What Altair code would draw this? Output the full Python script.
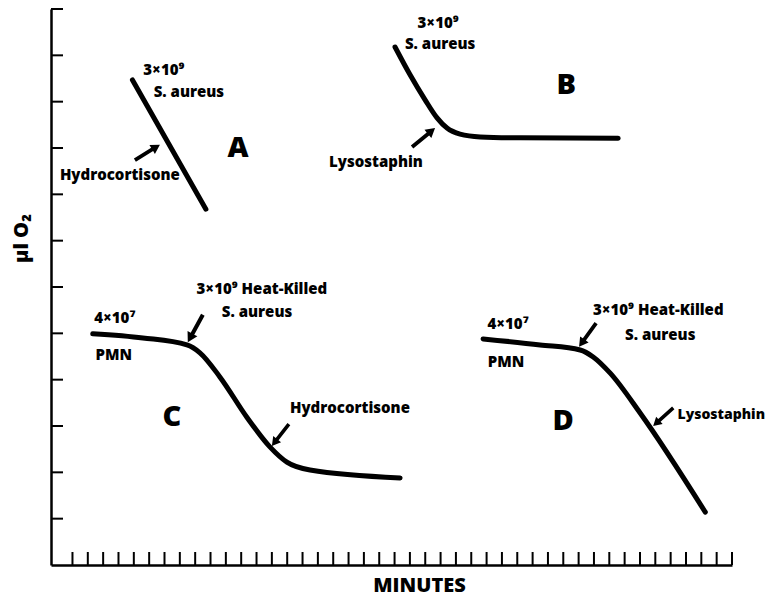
import math
import altair as alt
import pandas as pd

# ---- data ----
a_x = [3.91, 8.70]
a_y = [10.47, 7.68]
b_x = [21.03, 22.01, 22.99, 23.77, 24.42, 25.27, 26.58, 29.19, 35.58]
b_y = [11.18, 10.58, 10.04, 9.65, 9.43, 9.30, 9.24, 9.22, 9.21]
c_x = [1.32, 4.59, 7.46, 8.31, 9.61, 11.37, 12.87, 13.98, 15.49, 21.36]
c_y = [4.99, 4.90, 4.75, 4.58, 4.06, 3.19, 2.55, 2.22, 2.05, 1.88]
d_x = [26.77, 30.49, 33.10, 33.95, 35.06, 37.01, 41.26]
d_y = [4.88, 4.75, 4.64, 4.49, 4.14, 3.28, 1.14]

x_ticks = list(range(0, 44))
y_ticks = list(range(1, 13))

small_labels = ["3×10⁹", "S. aureus", "Hydrocortisone",
                "3×10⁹", "S. aureus", "Lysostaphin",
                "4×10⁷", "PMN", "3×10⁹ Heat-Killed", "S. aureus", "Hydrocortisone",
                "4×10⁷", "PMN", "3×10⁹ Heat-Killed", "S. aureus", "Lysostaphin"]
small_x = [5.96, 7.59, 3.09,
           23.84, 23.97, 19.79,
           2.76, 2.69, 12.35, 12.03, 18.09,
           28.40, 28.27, 38.19, 38.32, 42.30]
small_y = [10.68, 10.21, 8.42,
           11.70, 11.25, 8.70,
           5.33, 4.53, 5.96, 5.46, 3.39,
           5.20, 4.38, 5.50, 4.96, 3.24]
small_size = [15, 15, 15,
              15, 15, 15,
              15, 15, 15, 15, 15,
              15, 15, 15, 15, 14]

big_labels = ["A", "B", "C", "D"]
big_x = [10.79, 32.19, 6.48, 31.99]
big_y = [9.00, 10.36, 3.19, 3.11]

# arrows: tail -> tip
arrow_tail_x = [4.07, 22.14, 8.50, 14.11, 34.14, 39.17]
arrow_tail_y = [8.74, 9.02, 5.40, 3.04, 5.22, 3.39]
arrow_tip_x = [5.70, 23.64, 7.52, 13.00, 33.03, 37.86]
arrow_tip_y = [9.07, 9.43, 4.81, 2.57, 4.71, 3.00]

# ---- layout ----
W, H = 681, 556
X_DOM = [-1.4, 43]
Y_DOM = [0, 12]
FONT = "Open Sans"

sx = W / (X_DOM[1] - X_DOM[0])
sy = H / (Y_DOM[1] - Y_DOM[0])

curves = pd.concat([
    pd.DataFrame({"x": a_x, "y": a_y, "c": "A"}),
    pd.DataFrame({"x": b_x, "y": b_y, "c": "B"}),
    pd.DataFrame({"x": c_x, "y": c_y, "c": "C"}),
    pd.DataFrame({"x": d_x, "y": d_y, "c": "D"}),
], ignore_index=True)

arrows = []
for tx, ty, hx, hy in zip(arrow_tail_x, arrow_tail_y, arrow_tip_x, arrow_tip_y):
    dx = (hx - tx) * sx
    dy = -(hy - ty) * sy
    ang = math.degrees(math.atan2(dx, -dy)) % 360
    length = math.hypot(dx, dy)
    arrows.append({"x": (tx + hx) / 2, "y": (ty + hy) / 2, "angle": ang, "size": length ** 2})
arrows = pd.DataFrame(arrows)

small_df = pd.DataFrame({"label": small_labels, "x": small_x, "y": small_y, "fs": small_size})
big_df = pd.DataFrame({"label": big_labels, "x": big_x, "y": big_y})
xt_df = pd.DataFrame({"x": x_ticks})
yt_df = pd.DataFrame({"y": y_ticks})

xscale = alt.Scale(domain=X_DOM, nice=False, zero=False)
yscale = alt.Scale(domain=Y_DOM, nice=False, zero=False)

x_axis = alt.Axis(ticks=False, labels=False, grid=False, domainWidth=2.5, domainColor="black",
                  title="MINUTES", titleFont=FONT, titleFontSize=20, titleFontWeight=800,
                  titleColor="black", titleX=368, titleY=26, titleAlign="center",
                  titleBaseline="alphabetic")
y_axis = alt.Axis(ticks=False, labels=False, grid=False, domainWidth=2.5, domainColor="black",
                  title="µl O₂", titleFont=FONT, titleFontSize=20, titleFontWeight=800,
                  titleColor="black", titleAngle=270, titleX=-24, titleY=229,
                  titleAlign="center", titleBaseline="alphabetic")

X = lambda: alt.X("x:Q", scale=xscale, axis=x_axis)
Y = lambda: alt.Y("y:Q", scale=yscale, axis=y_axis)

lines = alt.Chart(curves).mark_line(
    color="black", strokeWidth=5, strokeCap="round", interpolate="monotone"
).encode(x=X(), y=Y(), detail="c:N")

xticks = alt.Chart(xt_df).mark_rule(color="black", strokeWidth=2).encode(
    x=X(), y=alt.value(H), y2=alt.value(H - 13))
yticks = alt.Chart(yt_df).mark_rule(color="black", strokeWidth=2).encode(
    y=Y(), x=alt.value(0), x2=alt.value(12))

ARROW = "M0,-1L0.36,-0.38L0.13,-0.38L0.13,1L-0.13,1L-0.13,-0.38L-0.36,-0.38Z"
arrow_layer = alt.Chart(arrows).mark_point(
    shape=ARROW, filled=True, color="black", opacity=1, strokeWidth=0
).encode(x=X(), y=Y(), angle=alt.Angle("angle:Q", scale=None),
         size=alt.Size("size:Q", scale=None))

small_text = alt.Chart(small_df).mark_text(
    font=FONT, fontWeight=800, color="black",
    align="center", baseline="middle"
).encode(x=X(), y=Y(), text="label:N", size=alt.Size("fs:Q", scale=None))

big_text = alt.Chart(big_df).mark_text(
    font=FONT, fontSize=29, fontWeight=800, color="black",
    align="center", baseline="middle"
).encode(x=X(), y=Y(), text="label:N")

chart = alt.layer(xticks, yticks, lines, arrow_layer, small_text, big_text).properties(
    width=W, height=H,
    autosize=alt.AutoSizeParams(type="none"),
    padding={"left": 43, "top": 1, "right": 35, "bottom": 33},
    background="white",
).configure_view(stroke=None)

chart.save("out.html", embed_options={"renderer": "svg", "actions": False})
